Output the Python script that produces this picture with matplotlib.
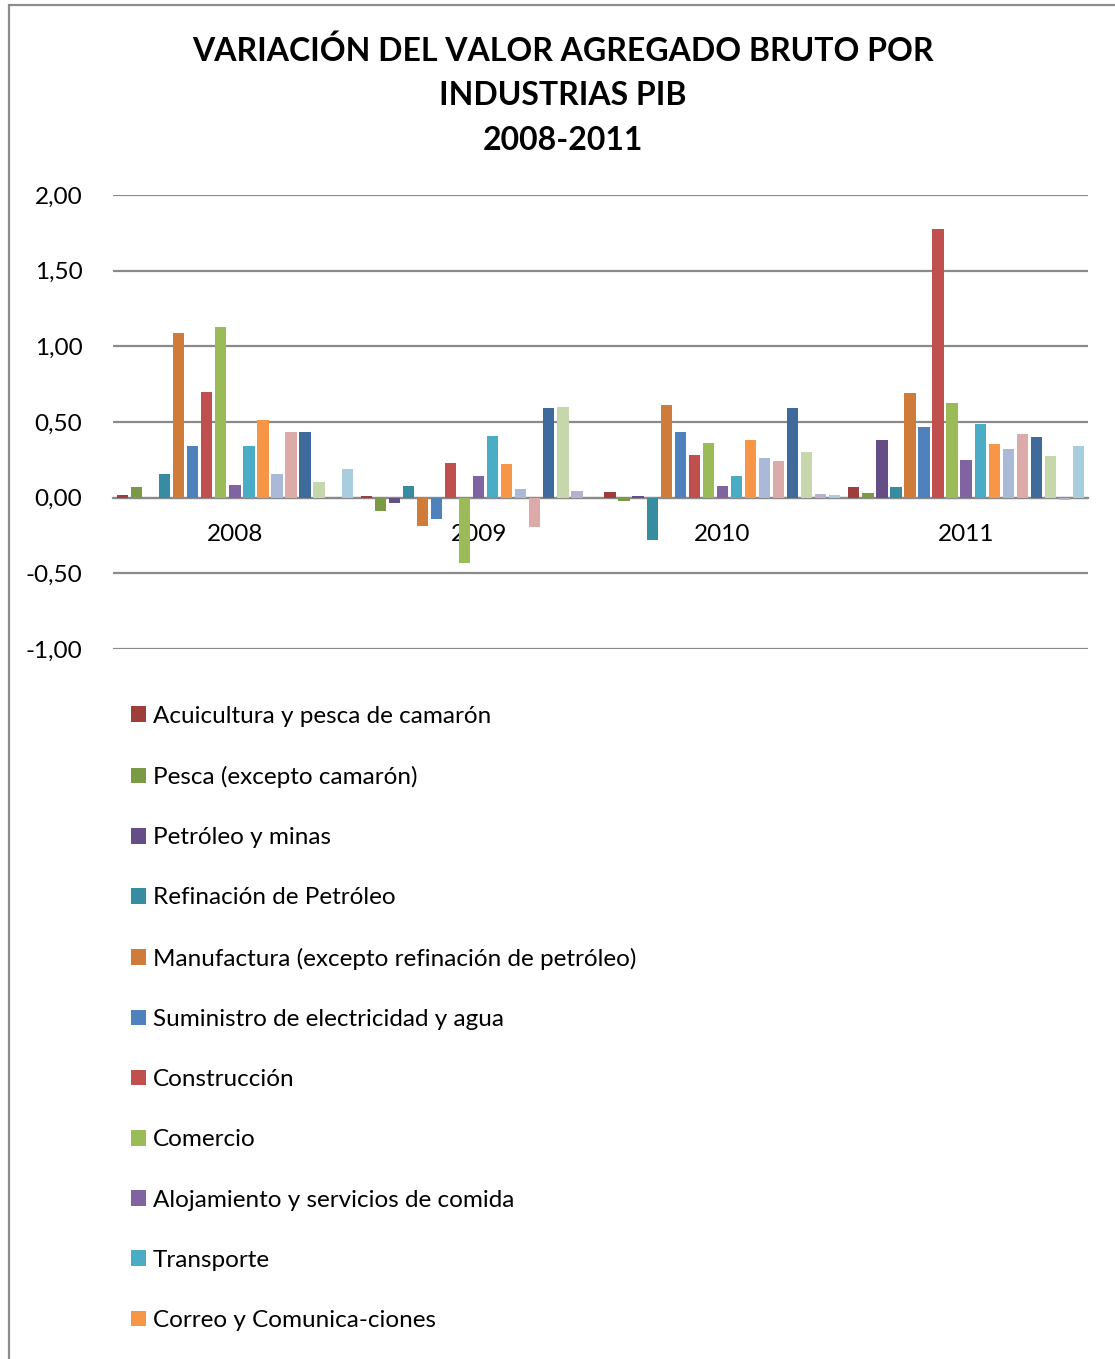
import matplotlib
matplotlib.use("Agg")
import matplotlib.pyplot as plt
import matplotlib.patches as mpatches
from matplotlib.ticker import FuncFormatter, MultipleLocator
import numpy as np

plt.rcParams['font.family'] = ['Lato', 'DejaVu Sans']

years = ['2008', '2009', '2010', '2011']

industries = [
    'Acuicultura y pesca de camarón',
    'Pesca (excepto camarón)',
    'Petróleo y minas',
    'Refinación de Petróleo',
    'Manufactura (excepto refinación de petróleo)',
    'Suministro de electricidad y agua',
    'Construcción',
    'Comercio',
    'Alojamiento y servicios de comida',
    'Transporte',
    'Correo y Comunica-ciones',
    'Actividades de servicios financieros',
    'Actividades profesionales, técnicas y administrativas',
    'Enseñanza y servicios sociales y de salud',
    'Administración pública',
    'Servicio doméstico',
    'Otros servicios',
]

# values per industry for 2008, 2009, 2010, 2011
v_acuicultura = [0.02, 0.01, 0.035, 0.073]
v_pesca = [0.07, -0.087, -0.02, 0.033]
v_petroleo = [0.0, -0.037, 0.011, 0.38]
v_refinacion = [0.155, 0.078, -0.28, 0.068]
v_manufactura = [1.09, -0.186, 0.615, 0.69]
v_suministro = [0.34, -0.14, 0.436, 0.466]
v_construccion = [0.695, 0.227, 0.283, 1.774]
v_comercio = [1.128, -0.43, 0.36, 0.625]
v_alojamiento = [0.086, 0.146, 0.075, 0.247]
v_transporte = [0.344, 0.41, 0.144, 0.486]
v_correo = [0.51, 0.223, 0.383, 0.353]
v_financieros = [0.159, 0.06, 0.26, 0.32]
v_profesionales = [0.432, -0.193, 0.243, 0.42]
v_ensenanza = [0.437, 0.595, 0.593, 0.402]
v_administracion = [0.104, 0.602, 0.303, 0.276]
v_domestico = [0.0, 0.044, 0.022, -0.018]
v_otros = [0.192, 0.0, 0.016, 0.34]

values = [v_acuicultura, v_pesca, v_petroleo, v_refinacion, v_manufactura,
          v_suministro, v_construccion, v_comercio, v_alojamiento, v_transporte,
          v_correo, v_financieros, v_profesionales, v_ensenanza,
          v_administracion, v_domestico, v_otros]

colors = ['#9E3D3A', '#7A9A45', '#654E85', '#388CA2', '#CF7C3A', '#4F81BD',
          '#C0504D', '#9BBB59', '#8064A2', '#4BACC6', '#F79646', '#AAB9D8',
          '#DBAAA9', '#3F6A9C', '#C6D7AB', '#BBAFCE', '#A8CEDD']

W, H = 1115, 1359
fig = plt.figure(figsize=(W / 100, H / 100), dpi=100)

# chart frame (cropped at right / bottom)
frame = mpatches.Rectangle((9 / W, -0.2), 1.3, 1 - 5 / H + 0.2,
                           transform=fig.transFigure, fill=False,
                           edgecolor='#8C8C8C', linewidth=1.6, zorder=0)
fig.patches.append(frame)

ax = fig.add_axes([113 / W, 1 - 649 / H, 975 / W, 454 / H])

n = len(values)
pitch = 0.0576
bw = 0.0464
x = np.arange(len(years))
start = -(pitch * (n - 1)) / 2
for i, (vals, c) in enumerate(zip(values, colors)):
    ax.bar(x + start + i * pitch, vals, width=bw, color=c,
           linewidth=0, label=industries[i], zorder=3)

ax.set_xlim(-0.5, len(years) - 0.5)
ax.set_ylim(-1.0, 2.0)
ax.yaxis.set_major_locator(MultipleLocator(0.5))
ax.yaxis.set_major_formatter(FuncFormatter(lambda v, p: f'{v:.2f}'.replace('.', ',')))
ax.grid(axis='y', color='#8A8A8A', linewidth=1.6, zorder=1)
ax.set_axisbelow(True)
for s in ['top', 'right', 'left']:
    ax.spines[s].set_visible(False)
ax.spines['bottom'].set_position(('data', 0))
ax.spines['bottom'].set_color('#8A8A8A')
ax.spines['bottom'].set_linewidth(1.6)
ax.set_xticks(x)
ax.set_xticklabels(years)
ax.tick_params(axis='x', length=0, pad=19, labelsize=17.5)
ax.tick_params(axis='y', length=0, pad=22, labelsize=17.5)

fig.text(563 / W, 1 - 95 / H,
         'VARIACIÓN DEL VALOR AGREGADO BRUTO POR\nINDUSTRIAS PIB\n2008-2011',
         ha='center', va='center', fontsize=23, fontweight='bold',
         linespacing=1.65)

handles, labels = ax.get_legend_handles_labels()
leg = fig.legend(handles[:11], labels[:11], loc='upper left',
                 bbox_to_anchor=(121 / W, 1 - 696 / H), frameon=False,
                 fontsize=17.5, handlelength=0.62, handleheight=0.62,
                 handletextpad=0.3, labelspacing=1.613, borderaxespad=0)

fig.savefig('out.png', dpi=100)
